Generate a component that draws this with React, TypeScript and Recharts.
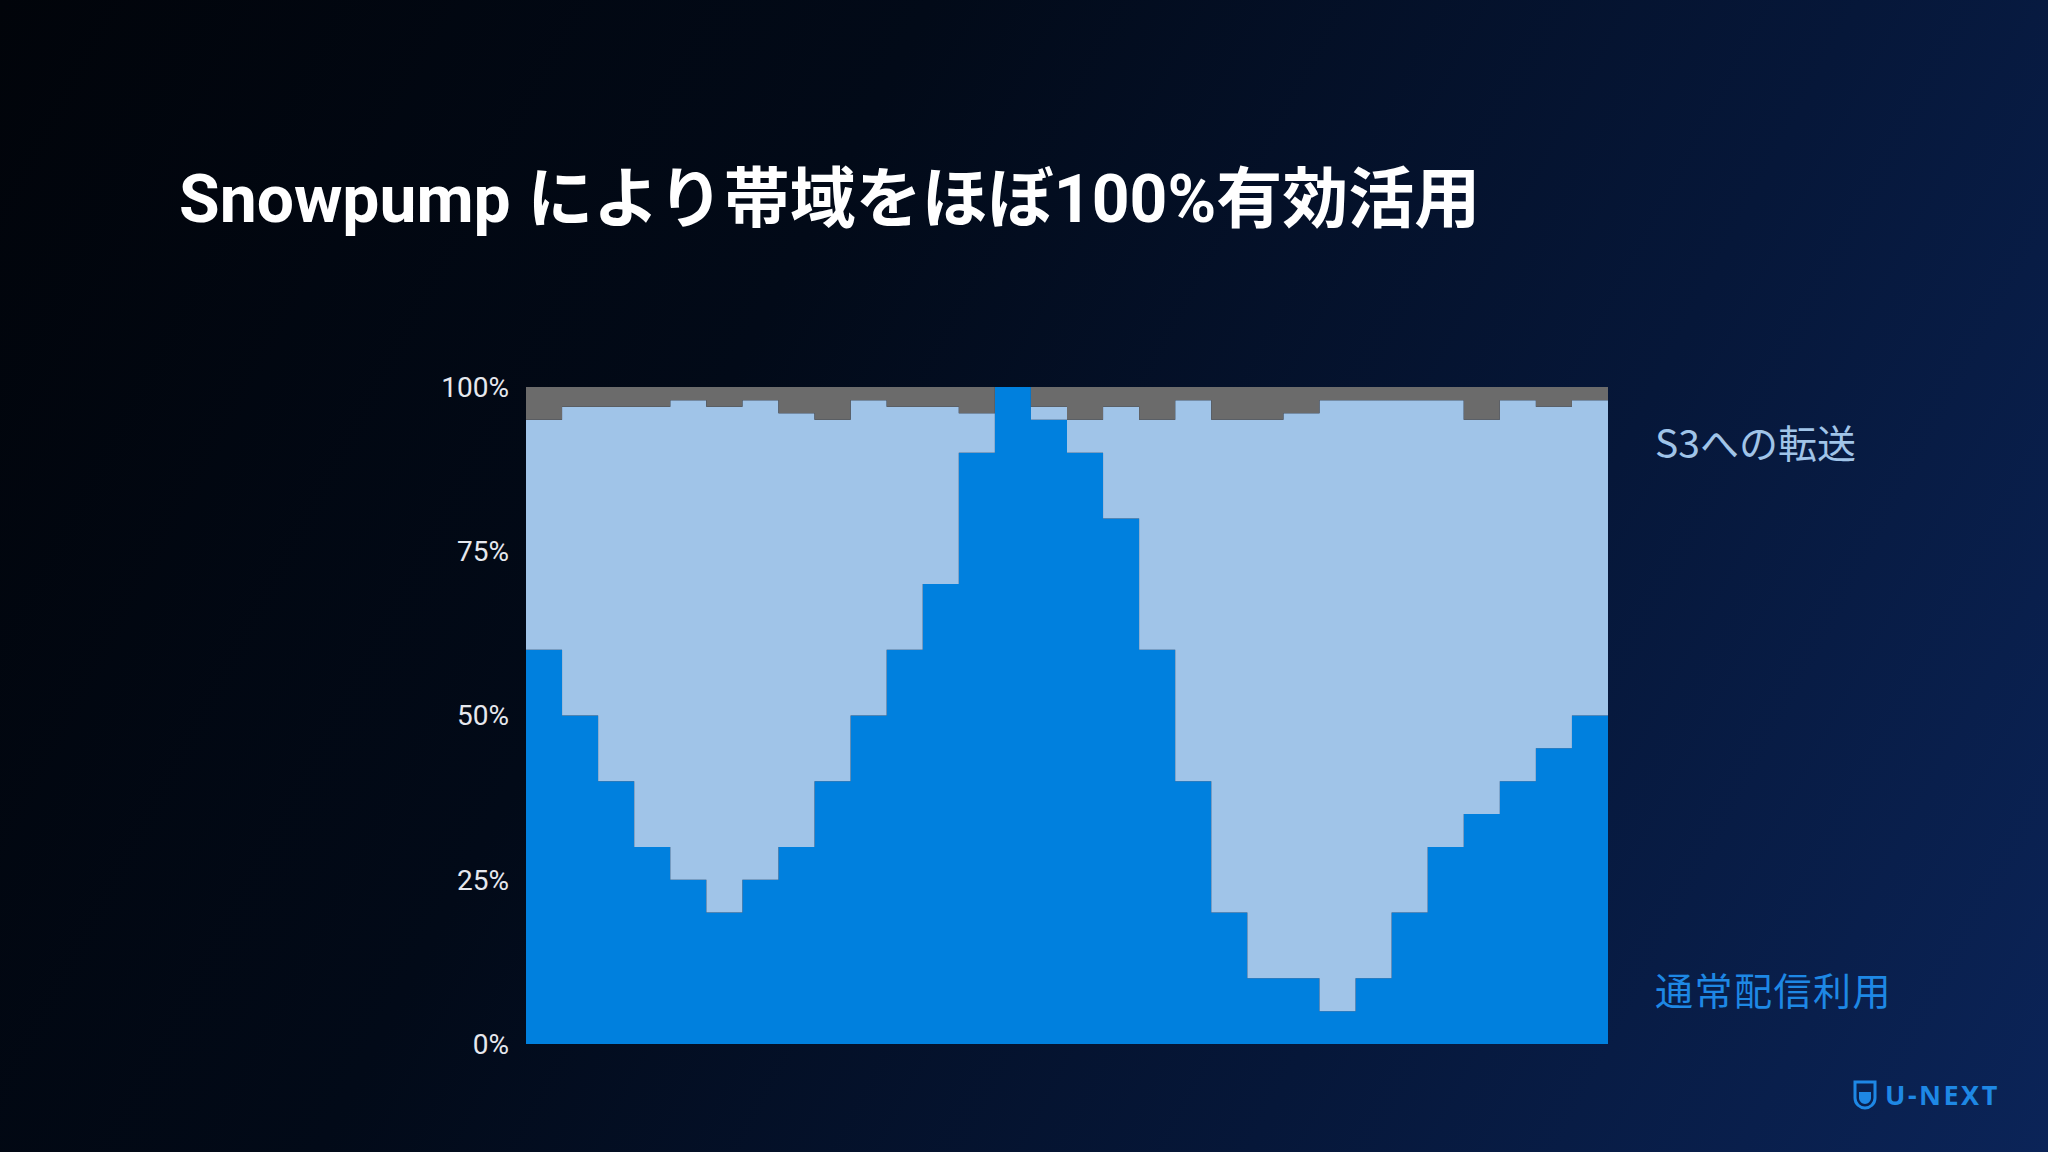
import React from "react"
import { AreaChart, Area, XAxis, YAxis } from "recharts"

// 30 time slots, share of bandwidth in %
const normalUse = [60, 50, 40, 30, 25, 20, 25, 30, 40, 50, 60, 70, 90, 100, 95, 90, 80, 60, 40, 20, 10, 10, 5, 10, 20, 30, 35, 40, 45, 50]
const s3Transfer = [35, 47, 57, 67, 73, 77, 73, 66, 55, 48, 37, 27, 6, 0, 2, 5, 17, 35, 58, 75, 85, 86, 93, 88, 78, 68, 60, 58, 52, 48]
const unused = [5, 3, 3, 3, 2, 3, 2, 4, 5, 2, 3, 3, 4, 0, 3, 5, 3, 5, 2, 5, 5, 4, 2, 2, 2, 2, 5, 2, 3, 2]
const yTicks = [0, 25, 50, 75, 100]

const title = "Snowpump により帯域をほぼ100%有効活用"
const s3Label = "S3への転送"
const normalLabel = "通常配信利用"

// stepAfter needs one closing point at the right edge
const data = normalUse.map((v, i) => ({ slot: i, normal: v, s3: s3Transfer[i], rest: unused[i] }))
data.push({ slot: normalUse.length, normal: normalUse[normalUse.length - 1], s3: s3Transfer[s3Transfer.length - 1], rest: unused[unused.length - 1] })

const App = () => {
  return (
    <div
      style={{
        position: "absolute",
        left: 0,
        top: 0,
        width: 2048,
        height: 1152,
        overflow: "hidden",
        background: "linear-gradient(118deg, #01040a 0%, #020a18 35%, #061739 70%, #0b2458 100%)",
      }}
    >
      <div
        style={{
          position: "absolute",
          left: 179,
          top: 157,
          fontFamily: "Roboto, 'Noto Sans CJK JP', sans-serif",
          fontWeight: 700,
          fontSize: 66,
          lineHeight: "86px",
          color: "#ffffff",
          whiteSpace: "nowrap",
        }}
      >
        {title}
      </div>

      <div style={{ position: "absolute", left: 0, top: 0 }}>
        <AreaChart
          width={2048}
          height={1152}
          data={data}
          margin={{ top: 387, right: 440, bottom: 108, left: 426 }}
        >
          <XAxis dataKey="slot" type="number" domain={[0, normalUse.length]} hide />
          <YAxis
            width={100}
            domain={[0, 100]}
            ticks={yTicks}
            tickFormatter={(v) => v + "%"}
            axisLine={false}
            tickLine={false}
            tickSize={0}
            tickMargin={17}
            tick={{ fill: "#e6e8ee", fontSize: 28, fontFamily: "Roboto, sans-serif" }}
          />
          <Area type="stepAfter" dataKey="normal" stackId="1" stroke="none" fill="#0080de" fillOpacity={1} isAnimationActive={false} />
          <Area type="stepAfter" dataKey="s3" stackId="1" stroke="none" fill="#a0c4e8" fillOpacity={1} isAnimationActive={false} />
          <Area type="stepAfter" dataKey="rest" stackId="1" stroke="none" fill="#6b6b6b" fillOpacity={1} isAnimationActive={false} />
        </AreaChart>
      </div>

      <div
        style={{
          position: "absolute",
          left: 1655,
          top: 416,
          fontFamily: "'Noto Sans CJK JP', sans-serif",
          fontSize: 39,
          lineHeight: "50px",
          color: "#a0c4e8",
          whiteSpace: "nowrap",
        }}
      >
        {s3Label}
      </div>
      <div
        style={{
          position: "absolute",
          left: 1655,
          top: 964,
          fontFamily: "'Noto Sans CJK JP', sans-serif",
          fontSize: 38,
          lineHeight: "50px",
          letterSpacing: 1.5,
          color: "#1e88e5",
          whiteSpace: "nowrap",
        }}
      >
        {normalLabel}
      </div>

      {/* logo */}
      <div style={{ position: "absolute", left: 1853, top: 1076, display: "flex", alignItems: "center" }}>
        <svg width={24} height={30} viewBox="0 0 24 30">
          <path d="M2 2 H22 V18 C22 24 17 28 12 28 C7 28 2 24 2 18 Z" fill="none" stroke="#1e88e5" strokeWidth={3} />
          <path d="M6 12 H18 V18 C18 21 15 24 12 24 C9 24 6 21 6 18 Z" fill="#1e88e5" />
        </svg>
        <span
          style={{
            marginLeft: 8,
            fontFamily: "'Noto Sans', sans-serif",
            fontWeight: 700,
            fontSize: 27,
            letterSpacing: 2.5,
            color: "#1e88e5",
          }}
        >
          U-NEXT
        </span>
      </div>
    </div>
  )
}

export default App
